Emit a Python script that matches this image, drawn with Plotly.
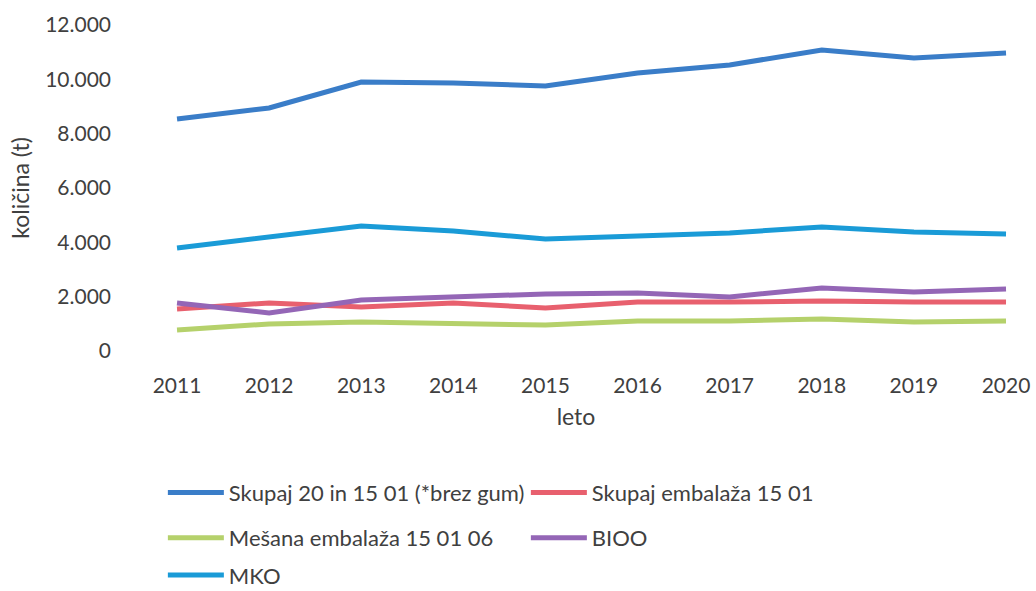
import plotly.graph_objects as go

years = [2011, 2012, 2013, 2014, 2015, 2016, 2017, 2018, 2019, 2020]
skupaj_20_15 = [8540, 8945, 9900, 9865, 9755, 10230, 10530, 11080, 10785, 10970]
skupaj_embalaza = [1545, 1770, 1620, 1770, 1580, 1800, 1800, 1840, 1800, 1800]
mesana_embalaza = [770, 995, 1070, 1030, 955, 1100, 1100, 1180, 1070, 1100]
bioo = [1770, 1400, 1880, 1990, 2100, 2135, 1990, 2320, 2170, 2280]
mko = [3790, 4200, 4600, 4420, 4120, 4230, 4345, 4565, 4380, 4310]

y_ticks = [0, 2000, 4000, 6000, 8000, 10000, 12000]
y_tick_text = ["0", "2.000", "4.000", "6.000", "8.000", "10.000", "12.000"]

FONT = "Lato"
TXT = "#404040"

series = [
    ("Skupaj 20 in 15 01 (*brez gum)", skupaj_20_15, "#3a7dc8", "legend"),
    ("Skupaj embalaža 15 01", skupaj_embalaza, "#e8606e", "legend"),
    ("Mešana embalaža 15 01 06", mesana_embalaza, "#b5d16b", "legend2"),
    ("BIOO", bioo, "#9466b6", "legend2"),
    ("MKO", mko, "#1a9bd7", "legend3"),
]

fig = go.Figure()
for name, vals, col, lg in series:
    fig.add_trace(go.Scatter(x=years, y=vals, name=name, mode="lines",
                             line=dict(color=col, width=5), legend=lg))

leg_common = dict(orientation="h", xanchor="left", yanchor="middle",
                  x=0.047, font=dict(family=FONT, size=22, color=TXT),
                  itemwidth=56, entrywidth=292, entrywidthmode="pixels",
                  bgcolor="rgba(0,0,0,0)", borderwidth=0)

fig.update_layout(
    width=1036, height=591,
    margin=dict(l=120, r=4, t=25, b=240, autoexpand=False),
    paper_bgcolor="white", plot_bgcolor="white",
    font=dict(family=FONT, size=21, color=TXT),
    xaxis=dict(range=[2010.381, 2020.282], tickmode="array", tickvals=years,
               ticktext=[str(y) for y in years], showgrid=False, zeroline=False,
               showline=False, ticks="", ticklabelstandoff=20,
               tickfont=dict(family=FONT, size=21, color=TXT),
               title=dict(text="leto", font=dict(family=FONT, size=23, color=TXT), standoff=12)),
    yaxis=dict(range=[0, 12000], tickmode="array", tickvals=y_ticks, ticktext=y_tick_text,
               showgrid=False, zeroline=False, showline=False, ticks="",
               ticklabelstandoff=8,
               tickfont=dict(family=FONT, size=21, color=TXT),
               title=dict(text="količina (t)", font=dict(family=FONT, size=23, color=TXT), standoff=9)),
    legend=dict(y=-0.4347, **leg_common),
    legend2=dict(y=-0.5736, **leg_common),
    legend3=dict(y=-0.688, **leg_common),
    showlegend=True,
)

fig.write_html("out.html", config={"displayModeBar": False},
               post_script="document.body.style.margin='0px';")
